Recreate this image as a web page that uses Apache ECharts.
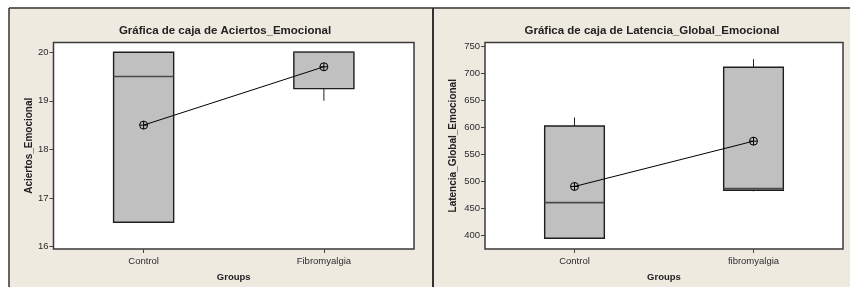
<!DOCTYPE html>
<html>
<head>
<meta charset="utf-8">
<script src="https://cdn.jsdelivr.net/npm/echarts@6/dist/echarts.min.js"></script>
<style>html,body{margin:0;padding:0;background:#fff;}#c{width:850px;height:287px;}</style>
</head>
<body>
<div id="c"></div>
<script>
// ---- data: left chart ----
const titleA = 'Gráfica de caja de Aciertos_Emocional';
const yNameA = 'Aciertos_Emocional';
const categoriesA = ['Control', 'Fibromyalgia'];
// [min, Q1, median, Q3, max]
const boxA = [[16.5, 16.5, 19.5, 20, 20], [19, 19.25, 20, 20, 20]];
const meanA = [18.5, 19.7];
const ticksA = [16, 17, 18, 19, 20];
const rangeA = [15.95, 20.2];

// ---- data: right chart ----
const titleB = 'Gráfica de caja de Latencia_Global_Emocional';
const yNameB = 'Latencia_Global_Emocional';
const categoriesB = ['Control', 'fibromyalgia'];
const boxB = [[393, 394, 460, 602, 618], [481, 483, 486, 711, 726]];
const meanB = [490, 574];
const ticksB = [400, 450, 500, 550, 600, 650, 700, 750];
const rangeB = [374, 757];

const xName = 'Groups';
const FONT = '"Liberation Sans", Arial, sans-serif';
const TXT = '#2b2b2b';

function renderBox(params, api) {
  const idx = api.value(0);
  const lo = api.coord([idx, api.value(1)]);
  const q1 = api.coord([idx, api.value(2)]);
  const med = api.coord([idx, api.value(3)]);
  const q3 = api.coord([idx, api.value(4)]);
  const hi = api.coord([idx, api.value(5)]);
  const bw = api.size([1, 0])[0] / 3;
  const x = q1[0];
  return {
    type: 'group',
    children: [
      {type: 'line', shape: {x1: x, y1: hi[1], x2: x, y2: q3[1]}, style: {stroke: '#222', lineWidth: 1}},
      {type: 'line', shape: {x1: x, y1: q1[1], x2: x, y2: lo[1]}, style: {stroke: '#222', lineWidth: 1}},
      {type: 'rect', shape: {x: x - bw / 2, y: q3[1], width: bw, height: q1[1] - q3[1]},
        style: {fill: '#C0C0C0', stroke: '#1e1e1e', lineWidth: 1.4}},
      {type: 'line', shape: {x1: x - bw / 2, y1: med[1], x2: x + bw / 2, y2: med[1]},
        style: {stroke: '#4a4a4a', lineWidth: 1.6}}
    ]
  };
}

const meanSymbol = 'path://M0,-4A4,4,0,1,1,0,4A4,4,0,1,1,0,-4ZM-4,0L4,0M0,-4L0,4';

function makeX(gi, cats) {
  return {
    type: 'category', gridIndex: gi, data: cats, boundaryGap: true,
    name: xName, nameLocation: 'middle', nameGap: 23,
    nameTextStyle: {fontFamily: FONT, fontSize: 9.5, fontWeight: 'bold', color: '#222'},
    axisLine: {show: false},
    axisTick: {show: true, alignWithLabel: true, length: 4, lineStyle: {color: '#444'}},
    axisLabel: {fontFamily: FONT, fontSize: 9.5, color: TXT, margin: 7},
    splitLine: {show: false}
  };
}
function makeY(gi, range, ticks, name, gap) {
  return {
    type: 'value', gridIndex: gi, min: range[0], max: range[1],
    name: name, nameLocation: 'middle', nameGap: gap, nameRotate: 90,
    nameTextStyle: {fontFamily: FONT, fontSize: 10, fontWeight: 'bold', color: '#222'},
    axisLine: {show: false},
    axisTick: {show: true, length: 4, lineStyle: {color: '#444'}, customValues: ticks},
    axisLabel: {fontFamily: FONT, fontSize: 9.5, color: TXT, margin: 5, customValues: ticks},
    splitLine: {show: false}
  };
}

const chart = echarts.init(document.getElementById('c'), null, {renderer: 'canvas'});
chart.setOption({
  animation: false,
  backgroundColor: '#ffffff',
  graphic: [
    {type: 'rect', z: -10, shape: {x: 9, y: 8, width: 841, height: 279}, style: {fill: '#EEEAE0'}},
    {type: 'line', z: -9, shape: {x1: 9, y1: 8, x2: 850, y2: 8}, style: {stroke: '#333', lineWidth: 1.5}},
    {type: 'line', z: -9, shape: {x1: 9, y1: 8, x2: 9, y2: 287}, style: {stroke: '#333', lineWidth: 1.5}},
    {type: 'line', z: -9, shape: {x1: 433, y1: 8, x2: 433, y2: 287}, style: {stroke: '#333', lineWidth: 2}}
  ],
  title: [
    {text: titleA, left: 220, top: 20, textAlign: 'center',
      textStyle: {fontFamily: FONT, fontSize: 11.5, fontWeight: 'bold', color: '#222'}},
    {text: titleB, left: 647, top: 20, textAlign: 'center',
      textStyle: {fontFamily: FONT, fontSize: 11.5, fontWeight: 'bold', color: '#222'}}
  ],
  grid: [
    {left: 53.5, top: 42.5, width: 360.5, height: 208, show: true, backgroundColor: '#fff',
      borderColor: '#3a3a3a', borderWidth: 1.5},
    {left: 485, top: 42.5, width: 358, height: 208, show: true, backgroundColor: '#fff',
      borderColor: '#3a3a3a', borderWidth: 1.5}
  ],
  xAxis: [makeX(0, categoriesA), makeX(1, categoriesB)],
  yAxis: [makeY(0, rangeA, ticksA, yNameA, 19), makeY(1, rangeB, ticksB, yNameB, 27)],
  series: [
    {type: 'custom', xAxisIndex: 0, yAxisIndex: 0, renderItem: renderBox,
      encode: {x: 0, y: [1, 2, 3, 4, 5]},
      data: boxA.map((b, i) => [i].concat(b))},
    {type: 'custom', xAxisIndex: 1, yAxisIndex: 1, renderItem: renderBox,
      encode: {x: 0, y: [1, 2, 3, 4, 5]},
      data: boxB.map((b, i) => [i].concat(b))},
    {type: 'line', xAxisIndex: 0, yAxisIndex: 0, data: meanA, symbol: meanSymbol, symbolSize: 8,
      lineStyle: {color: '#000', width: 1}, itemStyle: {color: 'rgba(0,0,0,0)', borderColor: '#000', borderWidth: 1}, z: 5},
    {type: 'line', xAxisIndex: 1, yAxisIndex: 1, data: meanB, symbol: meanSymbol, symbolSize: 8,
      lineStyle: {color: '#000', width: 1}, itemStyle: {color: 'rgba(0,0,0,0)', borderColor: '#000', borderWidth: 1}, z: 5}
  ]
});
</script>
</body>
</html>
